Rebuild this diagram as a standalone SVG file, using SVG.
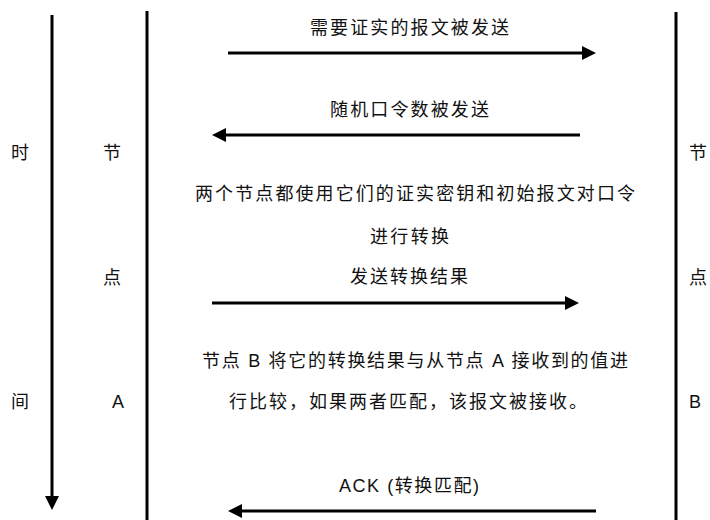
<svg xmlns="http://www.w3.org/2000/svg" width="710" height="520" viewBox="0 0 710 520">
<style>
text{font-family:"Liberation Sans","Noto Sans CJK SC",sans-serif;font-size:18px;fill:#111}
.life{stroke:#000;stroke-width:3;fill:none}
.msg{stroke:#000;stroke-width:3;fill:none;marker-end:url(#ah)}
</style>
<defs>
<marker id="ah" markerUnits="userSpaceOnUse" markerWidth="14" markerHeight="14" refX="0" refY="7" orient="auto" overflow="visible">
<path d="M0,0 L14,7 L0,14 Z" fill="#000"/>
</marker>
</defs>
<g id="time-axis">
<line class="msg" x1="52" y1="15" x2="52" y2="496"/>
<text x="11" y="159">时</text>
<text x="11" y="408">间</text>
</g>
<g id="node-a">
<line class="life" x1="147" y1="11" x2="147" y2="520"/>
<text x="103" y="159">节</text>
<text x="103" y="284">点</text>
<text x="112" y="408">A</text>
</g>
<g id="node-b">
<line class="life" x1="676" y1="12" x2="676" y2="520"/>
<text x="689" y="159">节</text>
<text x="689" y="284">点</text>
<text x="689" y="408">B</text>
</g>
<g id="notes">
<text x="195" y="200" textLength="440" lengthAdjust="spacing">两个节点都使用它们的证实密钥和初始报文对口令</text>
<text x="370" y="243" textLength="79" lengthAdjust="spacing">进行转换</text>
<text x="202" y="367" textLength="426" lengthAdjust="spacing">节点 B 将它的转换结果与从节点 A 接收到的值进</text>
<text x="229" y="408" textLength="358" lengthAdjust="spacing">行比较，如果两者匹配，该报文被接收。</text>
</g>
<g id="connectors">
<line class="msg" x1="228" y1="53" x2="582" y2="53"/>
<text x="310" y="34" textLength="199" lengthAdjust="spacing">需要证实的报文被发送</text>
<line class="msg" x1="580" y1="135" x2="226" y2="135"/>
<text x="330" y="116" textLength="159" lengthAdjust="spacing">随机口令数被发送</text>
<line class="msg" x1="212" y1="303" x2="565" y2="303"/>
<text x="350" y="283" textLength="118" lengthAdjust="spacing">发送转换结果</text>
<line class="msg" x1="596" y1="511" x2="242" y2="511"/>
<text x="339" y="492" textLength="140" lengthAdjust="spacing">ACK (转换匹配)</text>
</g>
</svg>
